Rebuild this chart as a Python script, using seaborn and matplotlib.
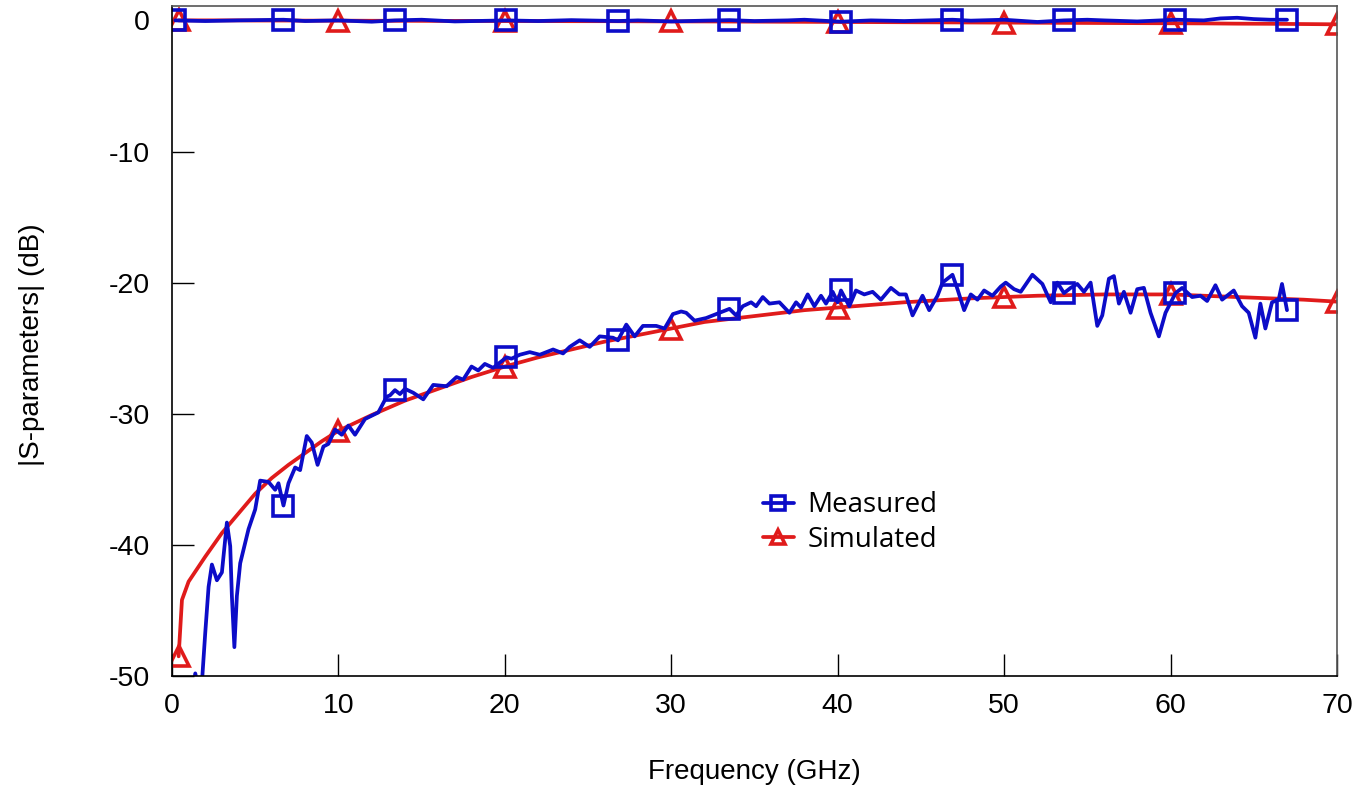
import matplotlib
matplotlib.use("Agg")
import matplotlib.pyplot as plt
import numpy as np
import pandas as pd
import seaborn as sns

# simulated curves (smooth), GHz / dB
sim_freq = [0.4, 0.6, 1, 2, 3, 4, 5, 6, 7, 8, 9, 10, 12, 14, 16, 18, 20, 22, 24,
            26, 28, 30, 32, 34, 36, 38, 40, 42, 44, 46, 48, 50, 52, 54, 56, 58,
            60, 62, 64, 66, 68, 70]
sim_s11 = [-48.5, -44.2, -42.8, -40.9, -39.1, -37.6, -36.1, -34.9, -33.9, -33.0,
           -32.1, -31.3, -30.1, -29.0, -28.1, -27.2, -26.4, -25.7, -25.1, -24.5,
           -24.0, -23.5, -23.0, -22.7, -22.4, -22.1, -21.9, -21.7, -21.5, -21.35,
           -21.2, -21.1, -21.0, -20.95, -20.9, -20.9, -20.9, -21.0, -21.1, -21.2,
           -21.3, -21.45]
sim_s21 = [0.0, 0.0, 0.0, 0.0, 0.0, 0.0, -0.01, -0.01, -0.01, -0.02, -0.02, -0.02,
           -0.03, -0.03, -0.04, -0.04, -0.05, -0.05, -0.06, -0.06, -0.07, -0.08,
           -0.08, -0.09, -0.1, -0.11, -0.12, -0.13, -0.14, -0.15, -0.16, -0.17,
           -0.18, -0.19, -0.2, -0.21, -0.22, -0.23, -0.25, -0.26, -0.28, -0.3]
sim_marks = [0.4, 10, 20, 30, 40, 50, 60, 70]

# measured S11 (noisy)
meas_freq = [0.2, 0.8, 1.2, 1.4, 1.6, 1.8, 2.0, 2.2, 2.4, 2.7, 3.0, 3.3, 3.5, 3.6,
             3.75, 3.9, 4.1, 4.6, 5.0, 5.3, 5.8, 6.2, 6.4, 6.7, 7.0, 7.4, 7.7, 8.1,
             8.4, 8.75, 9.1, 9.4, 9.8, 10.2, 10.6, 11.0, 11.6, 12.4, 12.9, 13.1,
             13.4, 13.7, 14.0, 14.5, 15.1, 15.7, 16.5, 17.1, 17.5, 18.0, 18.4,
             18.8, 19.3, 20.1, 20.4, 20.9, 21.5, 22.1, 22.9, 23.5, 23.9, 24.5,
             25.1, 25.7, 26.5, 26.8, 27.3, 27.8, 28.3, 29.1, 29.6, 30.1, 30.6,
             30.9, 31.4, 32.1, 32.7, 33.1, 33.5, 33.9, 34.3, 34.8, 35.1, 35.5,
             35.9, 36.5, 37.1, 37.5, 37.8, 38.2, 38.6, 39.0, 39.3, 39.7, 40.0,
             40.2, 40.7, 41.1, 41.6, 42.1, 42.6, 43.2, 43.7, 44.1, 44.5, 45.1,
             45.5, 46.0, 46.3, 46.9, 47.2, 47.6, 48.0, 48.4, 48.8, 49.3, 49.8,
             50.1, 50.6, 51.0, 51.7, 52.3, 52.8, 53.2, 53.6, 54.0, 54.4, 54.8,
             55.2, 55.6, 55.9, 56.3, 56.6, 56.9, 57.2, 57.6, 58.0, 58.4, 58.8,
             59.3, 59.7, 60.3, 60.7, 61.3, 61.8, 62.2, 62.7, 63.1, 63.8, 64.3,
             64.7, 65.1, 65.4, 65.7, 66.1, 66.5, 66.7, 67.0]
meas_s11 = [-58.0, -55.0, -51.5, -49.8, -51.0, -50.5, -46.7, -43.2, -41.5, -42.7,
            -42.1, -38.3, -40.1, -43.9, -47.8, -43.9, -41.4, -38.8, -37.3, -35.1,
            -35.2, -35.8, -35.3, -37.0, -35.3, -34.1, -34.3, -31.7, -32.2, -33.9,
            -32.5, -32.3, -31.2, -31.6, -30.9, -31.6, -30.4, -29.9, -28.7, -28.6,
            -28.2, -28.5, -28.1, -28.4, -28.9, -27.8, -27.9, -27.2, -27.4, -26.4,
            -26.7, -26.2, -26.5, -25.7, -25.8, -25.5, -25.3, -25.5, -25.1, -25.4,
            -24.9, -24.4, -24.9, -24.1, -24.2, -24.4, -23.2, -24.1, -23.3, -23.3,
            -23.5, -22.4, -22.2, -22.3, -22.9, -22.7, -22.4, -22.2, -22.0, -22.5,
            -21.8, -21.5, -21.8, -21.1, -21.6, -21.5, -22.3, -21.5, -21.9, -20.9,
            -21.8, -21.0, -21.6, -20.7, -21.5, -20.6, -21.8, -20.6, -20.9, -20.7,
            -21.3, -20.4, -20.9, -20.9, -22.5, -21.0, -22.1, -21.0, -20.0, -19.4,
            -20.5, -22.1, -20.9, -21.3, -20.6, -21.0, -20.3, -20.0, -20.5, -20.7,
            -19.4, -20.1, -21.5, -20.0, -20.8, -20.4, -20.1, -20.7, -20.0, -23.3,
            -22.5, -19.7, -19.5, -21.6, -20.7, -22.3, -20.5, -20.4, -22.3, -24.1,
            -22.3, -20.8, -20.4, -21.1, -21.0, -21.4, -20.2, -21.3, -20.6, -21.8,
            -22.3, -24.2, -21.6, -23.5, -21.5, -21.3, -20.1, -22.1]

# measured S21 (close to 0 dB)
meas21_freq = [0.2, 2, 4, 6.7, 8, 10, 12, 13.4, 15, 17, 20.1, 22, 24, 26.8, 28, 30,
               32, 33.5, 35, 37, 38, 40.2, 42, 44, 46.9, 48, 50, 52, 53.6, 55, 56,
               58, 60.3, 62, 63, 64, 65, 66, 67.0]
meas_s21 = [0.0, -0.05, 0.0, 0.05, -0.05, 0.0, -0.1, 0.0, 0.05, -0.08, 0.0, -0.05,
            0.02, -0.05, 0.0, -0.08, -0.02, 0.02, -0.05, 0.0, 0.05, -0.1, 0.0, -0.05,
            0.05, -0.02, 0.05, -0.12, 0.0, 0.05, 0.0, -0.08, 0.05, 0.0, 0.15, 0.2,
            0.1, 0.05, 0.05]
meas_marks = [0.2, 6.7, 13.4, 20.1, 26.8, 33.5, 40.2, 46.9, 53.6, 60.3, 67.0]

blue = "#0c0cc8"
red = "#e01b1b"

sns.set_style("white")
plt.rcParams['font.family'] = ['Liberation Sans', 'DejaVu Sans']
plt.rcParams['axes.unicode_minus'] = False
plt.rcParams['text.color'] = 'black'
plt.rcParams['axes.labelcolor'] = 'black'
plt.rcParams['xtick.color'] = 'black'
plt.rcParams['ytick.color'] = 'black'

fig = plt.figure(figsize=(13.67, 7.95), dpi=100)
ax = fig.add_axes([0.1258, 0.1497, 0.8522, 0.8428])

sim11 = pd.DataFrame({"f": sim_freq, "s": sim_s11})
sim21 = pd.DataFrame({"f": sim_freq, "s": sim_s21})
m11 = pd.DataFrame({"f": meas_freq, "s": meas_s11})
m21 = pd.DataFrame({"f": meas21_freq, "s": meas_s21})

sim_idx = [i for i, f in enumerate(sim_freq) if f in sim_marks]
m11_idx = [i for i, f in enumerate(meas_freq) if f in meas_marks]
m21_idx = [i for i, f in enumerate(meas21_freq) if f in meas_marks]

common = dict(linewidth=2.7, markersize=15, markerfacecolor="none",
              markeredgewidth=2.6, errorbar=None)

sns.lineplot(data=sim21, x="f", y="s", ax=ax, color=red, marker="^",
             markeredgecolor=red, markevery=sim_idx, **common)
sns.lineplot(data=sim11, x="f", y="s", ax=ax, color=red, marker="^",
             markeredgecolor=red, markevery=sim_idx, label="Simulated", **common)
sns.lineplot(data=m21, x="f", y="s", ax=ax, color=blue, marker="s",
             markeredgecolor=blue, markevery=m21_idx, **common)
sns.lineplot(data=m11, x="f", y="s", ax=ax, color=blue, marker="s",
             markeredgecolor=blue, markevery=m11_idx, label="Measured", **common)

ax.set_xlim(0, 70)
ax.set_ylim(-50, 1.1)
ax.set_xticks(range(0, 71, 10))
ax.set_yticks(range(-50, 1, 10))
ax.tick_params(axis="x", direction="in", length=16, width=1, pad=12,
               labelsize=20.5, top=False, bottom=True)
ax.tick_params(axis="y", direction="in", length=16, width=1, pad=16,
               labelsize=20.5, left=True, right=False)
for s in ax.spines.values():
    s.set_color("#555555")
    s.set_linewidth(1.2)
ax.spines["left"].set_color("black")
ax.spines["bottom"].set_color("black")

ax.set_xlabel("Frequency (GHz)", fontsize=20)
ax.set_ylabel("|S-parameters| (dB)", fontsize=20)
ax.xaxis.label.set_va("center")
ax.yaxis.label.set_va("center")
ax.xaxis.set_label_coords(0.5, -0.143)
ax.yaxis.set_label_coords(-0.12, 0.494)

handles, labels = ax.get_legend_handles_labels()
order = [labels.index("Measured"), labels.index("Simulated")]
ax.legend([handles[i] for i in order], [labels[i] for i in order],
          loc="upper left", bbox_to_anchor=(0.486, 0.313), frameon=False,
          prop={"family": "Open Sans", "size": 20}, markerscale=0.7,
          handlelength=1.1, handletextpad=0.5, labelspacing=0.25)

fig.savefig("out.png", dpi=100)
